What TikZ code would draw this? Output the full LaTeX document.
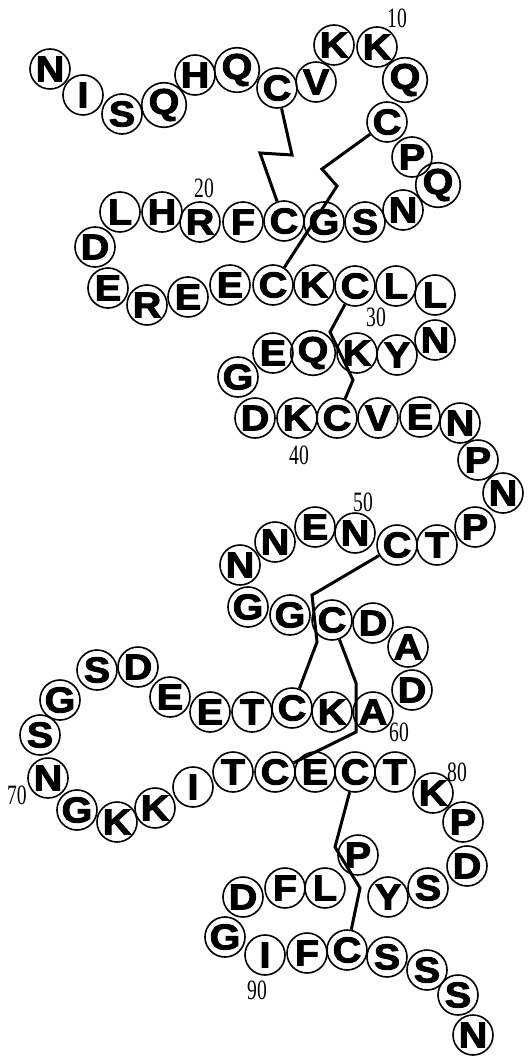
\documentclass[tikz,border=0pt]{standalone}
\usepackage{fontspec}
\usepackage{tikz}
\newfontfamily\resfont[FakeStretch=1.1, FakeBold=2.5]{Liberation Sans}
\newfontfamily\numfont[FakeStretch=0.7]{Liberation Serif}

\begin{document}
\begin{tikzpicture}[x=1pt, y=-1pt,
  res/.style={circle, draw, line width=1.6pt, minimum size=40pt, inner sep=0pt, font=\resfont\bfseries\fontsize{36}{36}\selectfont},
  num/.style={inner sep=0pt, font=\numfont\fontsize{28}{28}\selectfont},
  bond/.style={line width=3pt, line join=miter}]
  \useasboundingbox (0,0) rectangle (531,1057);
  % residues 1--96
  \foreach \l/\x/\y [count=\i] in {
    N/50/69, I/83/95, S/122/114, Q/164/105, H/195/75, Q/237/70, C/277/88, V/316/82,
    K/334/45, K/377/47, Q/405/80, C/387/122, P/412/157, Q/438/185, N/403/210, S/365/222,
    G/324/222, C/284/221, F/243/222, R/200/222, H/162/212, L/120/212, D/95/247, E/108/288,
    R/147/305, E/188/297, E/230/285, C/273/285, K/314/285, C/355/286, L/396/286, L/435/295,
    N/435/340, Y/397/355, K/357/353, Q/313/353, E/273/353, G/238/377, D/255/418, K/297/418,
    C/337/418, V/378/418, E/420/417, N/460/423, P/478/460, N/503/493, P/475/527, T/437/545,
    C/397/545, N/355/533, E/315/527, N/275/542, N/240/565, G/248/607, G/290/615, C/332/620,
    D/373/623, A/408/647, D/412/690, A/373/712, K/332/712, C/292/708, T/252/712, E/210/712,
    E/170/697, D/138/667, S/97/670, G/60/700, S/40/735, N/48/778, G/77/810, K/117/822,
    K/155/808, I/193/787, T/233/772, C/275/772, E/315/772, C/355/772, T/395/772, K/433/793,
    P/463/822, D/467/866, S/428/888, Y/388/897, P/358/855, L/325/888, F/285/888, D/243/897,
    G/225/937, I/265/955, F/307/953, C/347/950, S/387/957, S/427/970, S/458/995, N/473/1035}
    \node[res] (r\i) at (\x,\y) {\l};
  % numbering
  \node[num] (n10) at (397,18) {10};
  \node[num] (n20) at (204,188) {20};
  \node[num] (n30) at (376,317) {30};
  \node[num] (n40) at (299,455) {40};
  \node[num] (n50) at (363,502) {50};
  \node[num] (n60) at (399,732) {60};
  \node[num] (n70) at (17,795) {70};
  \node[num] (n80) at (457,772) {80};
  \node[num] (n90) at (257,990) {90};
  % disulfide bonds
  \draw[bond] (r7) -- (292,155) -- (260,153) -- (r18);
  \draw[bond] (r12) -- (322,169) -- (337,186) -- (r28);
  \draw[bond] (r30) -- (330,332) -- (353,380) -- (r41);
  \draw[bond] (r49) -- (312,595) -- (317,642) -- (r62);
  \draw[bond] (r56) -- (356,683) -- (356,732) -- (r76);
  \draw[bond] (r78) -- (335,847) -- (360,888) -- (r92);
\end{tikzpicture}
\end{document}
